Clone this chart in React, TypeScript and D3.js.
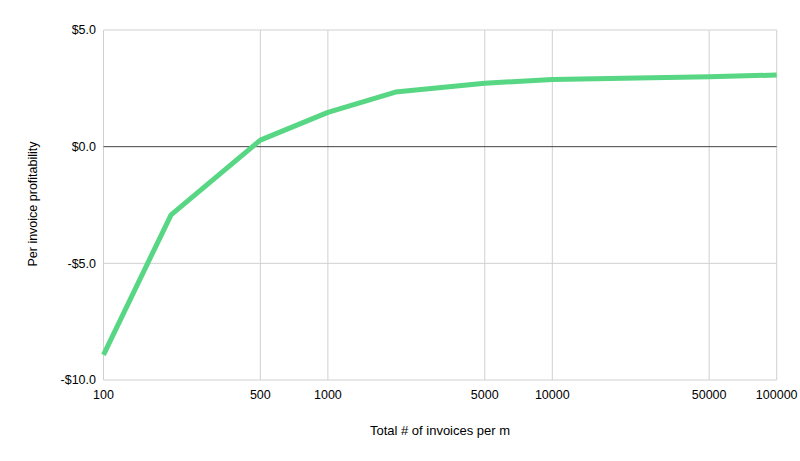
import React from "react";
import * as d3 from "d3";

const invoices = [100, 200, 500, 1000, 2000, 5000, 10000, 50000, 100000];
const profit = [-8.92, -2.92, 0.28, 1.47, 2.34, 2.72, 2.88, 3.0, 3.07];
const xTicks = [100, 500, 1000, 5000, 10000, 50000, 100000];
const yTicks = [-10, -5, 0, 5];
const xTitle = "Total # of invoices per m";
const yTitle = "Per invoice profitability";

const W = 800, H = 461;
const L = 103.5, R = 776.7, T = 30, B = 380;

export default function App() {
  const x = d3.scaleLog().domain([100, 100000]).range([L, R]);
  const y = d3.scaleLinear().domain([-10, 5]).range([B, T]);
  const data = invoices.map((v, i) => [v, profit[i]] as [number, number]);
  const line = d3.line<[number, number]>().x(d => x(d[0])).y(d => y(d[1]));
  const fmt = (v: number) => (v < 0 ? "-$" : "$") + Math.abs(v).toFixed(1);
  const font = "Liberation Sans, Arial, sans-serif";
  return (
    <svg width={W} height={H} style={{ position: "absolute", left: 0, top: 0 }} fontFamily={font}>
      <rect x={0} y={0} width={W} height={H} fill="#fff" />
      {xTicks.map(t => (
        <line key={"gx" + t} x1={x(t)} x2={x(t)} y1={T} y2={B} stroke="#d0d0d0" strokeWidth={1} />
      ))}
      {yTicks.filter(t => t !== 0).map(t => (
        <line key={"gy" + t} x1={L} x2={R} y1={y(t)} y2={y(t)} stroke="#d0d0d0" strokeWidth={1} />
      ))}
      <line x1={L} x2={R} y1={y(0)} y2={y(0)} stroke="#444" strokeWidth={1} />
      <path d={line(data) || ""} fill="none" stroke="#57d683" strokeWidth={5} strokeLinejoin="round" />
      {yTicks.map(t => (
        <text key={"ty" + t} x={96} y={y(t)} dy="0.35em" textAnchor="end" fontSize={12.5} fill="#000">
          {fmt(t)}
        </text>
      ))}
      {xTicks.map(t => (
        <text key={"tx" + t} x={x(t)} y={395} dy="0.35em" textAnchor="middle" fontSize={12.5} fill="#000">
          {t}
        </text>
      ))}
      <text x={440} y={430} dy="0.35em" textAnchor="middle" fontSize={13} fill="#000">{xTitle}</text>
      <text transform={`translate(33,204) rotate(-90)`} dy="0.35em" textAnchor="middle" fontSize={12.5} fill="#000">
        {yTitle}
      </text>
    </svg>
  );
}
